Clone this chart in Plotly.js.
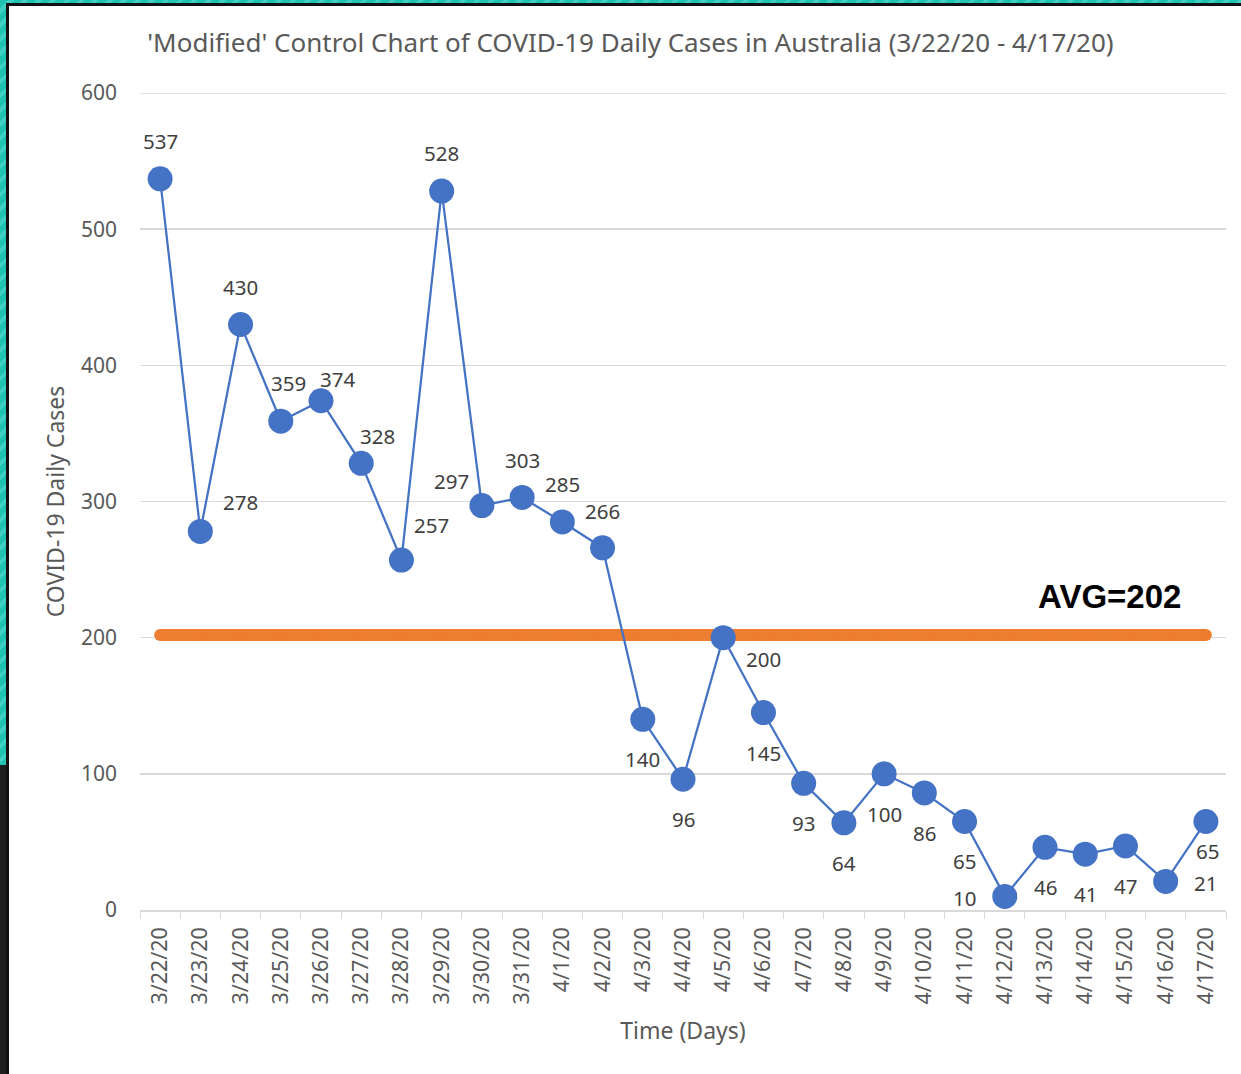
<!DOCTYPE html>
<html>
<head>
<meta charset="utf-8">
<script src="https://cdn.plot.ly/plotly-3.0.1.min.js"></script>
<style>
  html, body { margin: 0; padding: 0; background: #fff; }
  #wrap { position: relative; width: 1241px; height: 1074px; overflow: hidden; }
  #myDiv { position: absolute; left: 0; top: 0; width: 1241px; height: 1074px; }
  .teal { position: absolute; background: repeating-linear-gradient(135deg, #1fc2b3 0px, #1fc2b3 6px, #3fd0c2 6px, #3fd0c2 10px); }
  #topTeal { left: 0; top: 0; width: 1241px; height: 3px; }
  #leftTeal { left: 0; top: 0; width: 6px; height: 765px; }
  #leftDark { position: absolute; left: 0; top: 765px; width: 6px; height: 309px; background: #1e1e1e; }
  #topLine { position: absolute; left: 6px; top: 3px; width: 1235px; height: 3px; background: #111; }
  #leftLine { position: absolute; left: 6px; top: 3px; width: 3px; height: 1071px; background: #111; }
</style>
</head>
<body>
<div id="wrap">
  <div id="myDiv"></div>
  <div id="topTeal" class="teal"></div>
  <div id="leftTeal" class="teal"></div>
  <div id="leftDark"></div>
  <div id="topLine"></div>
  <div id="leftLine"></div>
</div>
<script>
var dates = ["3/22/20", "3/23/20", "3/24/20", "3/25/20", "3/26/20", "3/27/20", "3/28/20",
  "3/29/20", "3/30/20", "3/31/20", "4/1/20", "4/2/20", "4/3/20", "4/4/20", "4/5/20",
  "4/6/20", "4/7/20", "4/8/20", "4/9/20", "4/10/20", "4/11/20", "4/12/20", "4/13/20",
  "4/14/20", "4/15/20", "4/16/20", "4/17/20"];
var cases = [537, 278, 430, 359, 374, 328, 257, 528, 297, 303, 285, 266, 140, 96, 200,
  145, 93, 64, 100, 86, 65, 10, 46, 41, 47, 21, 65];
var avg = 202;

// data label offsets from the point centre, in pixels (right / down)
var labelDx = [0, 40, 0, 8, 16, 16, 30, 0, -30, 0, 0, 0, 0, 0, 40, 0, 0, 0, 0, 0, 0, -40, 0, 0, 0, 40, 2];
var labelDy = [-38, -29, -37, -38, -22, -27, -35, -38, -25, -37, -38, -37, 40, 40, 21, 40, 40, 40, 40, 40, 40, 2, 40, 40, 40, 2, 30];

var avgLine = [];
for (var i = 0; i < dates.length; i++) {
  avgLine.push(avg);
}

var font = "'Noto Sans', 'Open Sans', sans-serif";

var trace1 = {
  x: dates,
  y: avgLine,
  mode: "lines+markers",
  type: "scatter",
  line: { color: "#ED7D31", width: 12 },
  marker: { color: "#ED7D31", size: 12 },
  hoverinfo: "skip",
  showlegend: false
};

var trace2 = {
  x: dates,
  y: cases,
  mode: "lines+markers",
  type: "scatter",
  line: { color: "#4472C4", width: 2.25 },
  marker: { color: "#4472C4", size: 25 },
  showlegend: false,
  cliponaxis: false
};

var annotations = [];
for (var j = 0; j < dates.length; j++) {
  annotations.push({
    text: String(cases[j]),
    xref: "x",
    yref: "y",
    x: dates[j],
    y: cases[j],
    xshift: labelDx[j],
    yshift: -labelDy[j],
    xanchor: "center",
    yanchor: "middle",
    showarrow: false,
    font: { family: font, size: 20.5, color: "#404040" }
  });
}
annotations.push({
  text: "<b>AVG=" + avg + "</b>",
  xref: "paper",
  yref: "y",
  x: 0.893,
  y: 230,
  xanchor: "center",
  yanchor: "middle",
  showarrow: false,
  font: { family: "'Liberation Sans', Arial, sans-serif", size: 33, color: "#000000" }
});

var layout = {
  width: 1241,
  height: 1074,
  paper_bgcolor: "#ffffff",
  plot_bgcolor: "#ffffff",
  margin: { l: 140, r: 15, t: 93, b: 164 },
  font: { family: font, color: "#595959" },
  title: {
    text: "'Modified' Control Chart of COVID-19 Daily Cases in Australia (3/22/20 - 4/17/20)",
    font: { family: font, size: 26, color: "#595959" },
    x: 0.508,
    xref: "container",
    y: 0.96,
    yref: "container",
    yanchor: "middle"
  },
  xaxis: {
    type: "category",
    range: [-0.5, 26.5],
    tickangle: -90,
    tickfont: { family: font, size: 21.5, color: "#595959" },
    showgrid: false,
    showline: true,
    linecolor: "#d9d9d9",
    linewidth: 1.5,
    ticks: "outside",
    tickson: "boundaries",
    ticklen: 7,
    tickcolor: "#d9d9d9",
    ticklabelstandoff: 7,
    zeroline: false,
    title: { text: "Time (Days)", font: { family: font, size: 23, color: "#595959" }, standoff: 19 }
  },
  yaxis: {
    range: [0, 600],
    dtick: 100,
    tickfont: { family: font, size: 21, color: "#595959" },
    gridcolor: "#d9d9d9",
    gridwidth: 1.5,
    zeroline: false,
    showline: false,
    ticks: "",
    ticklabelstandoff: 22,
    title: { text: "COVID-19 Daily Cases", font: { family: font, size: 23, color: "#595959" }, standoff: 9 }
  },
  shapes: [{
    type: "line",
    xref: "paper",
    yref: "y",
    x0: 0,
    x1: 1,
    y0: 600,
    y1: 600,
    line: { color: "#d9d9d9", width: 1.5 },
    layer: "below"
  }],
  annotations: annotations
};

Plotly.newPlot("myDiv", [trace1, trace2], layout, { displayModeBar: false, staticPlot: true });
</script>
</body>
</html>
